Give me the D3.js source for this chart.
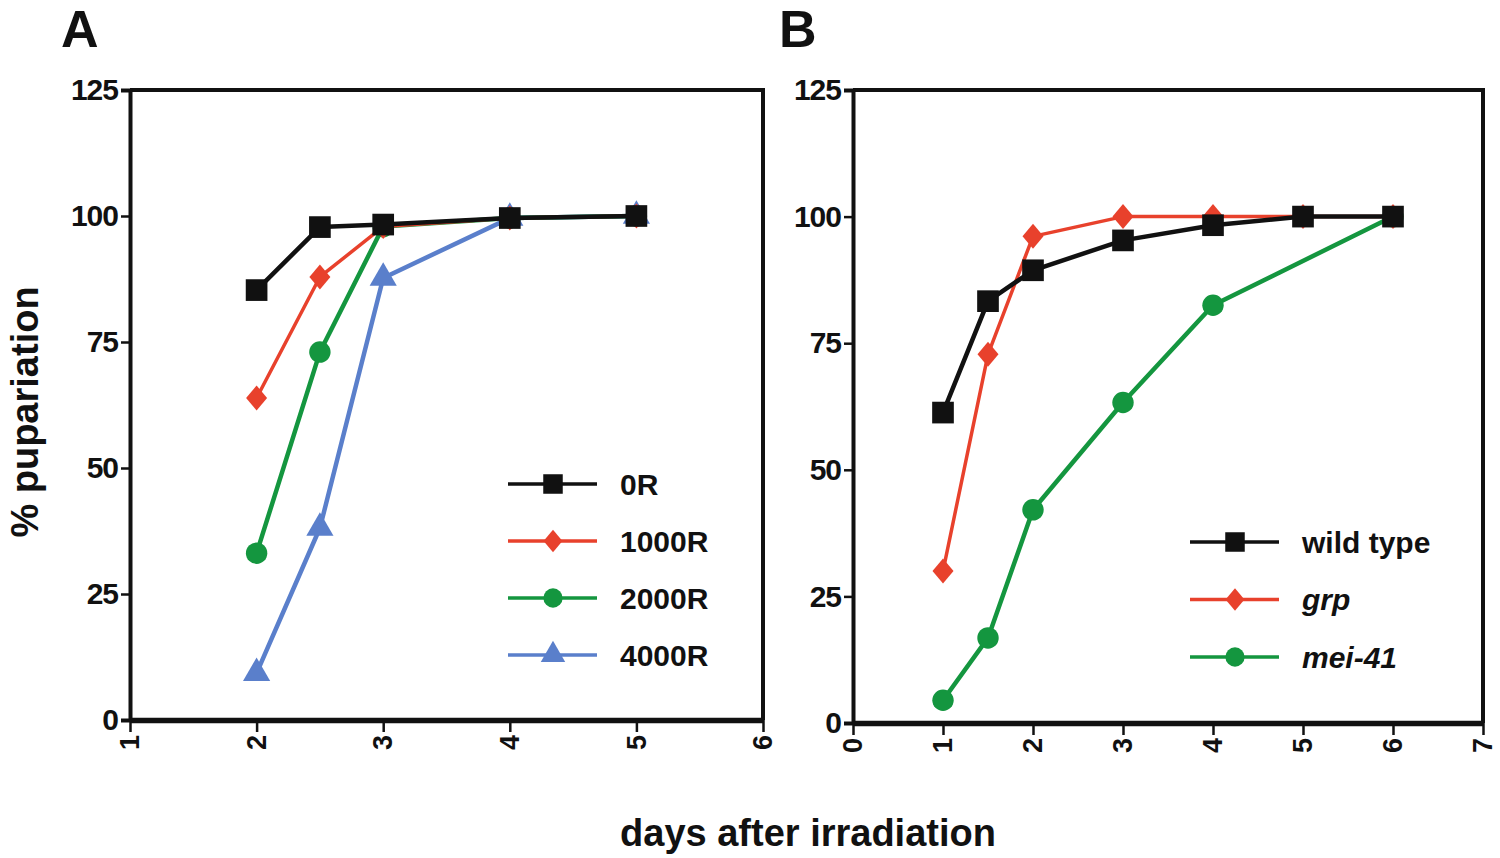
<!DOCTYPE html>
<html>
<head>
<meta charset="utf-8">
<script src="https://cdn.jsdelivr.net/npm/d3@7"></script>
<style>
  body { margin: 0; background: #fff; }
  svg { display: block; }
  text { font-family: "Liberation Sans", Arial, sans-serif; font-weight: bold; fill: #111; }
</style>
</head>
<body>
<div id="chart"></div>
<script>
// panel A: dose series
const daysA = [2, 2.5, 3, 4, 5];
const doseNames = ["0R", "1000R", "2000R", "4000R"];
const dose0R = [85.3, 97.8, 98.3, 99.6, 100];
const dose1000R = [63.9, 87.9, 97.9, 99.6, 100];
const dose2000R = [33.1, 73.0, 97.9, 99.6, 100];
const dose4000R = [9.3, 38.1, 87.7, 99.6, 100];

// panel B: genotypes
const daysB = [1, 1.5, 2, 3, 4, 5, 6];
const daysMei = [1, 1.5, 2, 3, 4, 6];
const genoNames = ["wild type", "grp", "mei-41"];
const wildType = [61.3, 83.3, 89.4, 95.3, 98.3, 100, 100];
const grp = [30.0, 72.8, 96.1, 100, 100, 100, 100];
const mei41 = [4.5, 16.8, 42.1, 63.3, 82.5, 100];

const yTicks = [0, 25, 50, 75, 100, 125];
const xTicksA = [1, 2, 3, 4, 5, 6];
const xTicksB = [0, 1, 2, 3, 4, 5, 6, 7];

const colors = {black: "#111111", red: "#e8412c", green: "#14963f", blue: "#5a7fcb"};

const width = 1500, height = 858;
const svg = d3.select("#chart").append("svg")
    .attr("width", width)
    .attr("height", height)
    .attr("viewBox", [0, 0, width, height]);

// marker shapes
const sym = {
    square: d3.symbol(d3.symbolSquare, 470),
    circle: d3.symbol(d3.symbolCircle, 360),
    triangle: d3.symbol(d3.symbolTriangle, 320)
};
function drawMarker(g, shape, color, x, y, scale = 1) {
    if (shape === "diamond") {
        const w = 10.5 * scale, h = 12.5 * scale;
        g.append("path")
            .attr("d", `M${x},${y - h}L${x + w},${y}L${x},${y + h}L${x - w},${y}Z`)
            .attr("fill", color);
    } else {
        g.append("path")
            .attr("transform", `translate(${x},${y}) scale(${scale})`)
            .attr("d", sym[shape]())
            .attr("fill", color);
    }
}

function panel(opt) {
    const x = d3.scaleLinear(opt.xDomain, opt.xRange);
    const y = d3.scaleLinear([0, 125], opt.yRange);
    const g = svg.append("g");

    // frame (top + right)
    g.append("path")
        .attr("d", `M${x.range()[0]},${y(125)}H${x.range()[1]}V${y(0)}`)
        .attr("fill", "none").attr("stroke", "#111").attr("stroke-width", 4);

    // y axis
    const ya = g.append("g")
        .attr("transform", `translate(${x.range()[0]},0)`)
        .call(d3.axisLeft(y).tickValues(yTicks).tickFormat(d3.format("d")).tickSize(9).tickPadding(3));
    ya.select(".domain").attr("stroke-width", 4).attr("stroke", "#111");
    ya.selectAll(".tick line").attr("stroke-width", 2.5).attr("stroke", "#111");
    ya.selectAll(".tick text")
        .style("font-size", "30px").style("letter-spacing", "-1px").attr("fill", "#111");

    // x axis
    const xa = g.append("g")
        .attr("transform", `translate(0,${y(0)})`)
        .call(d3.axisBottom(x).tickValues(opt.xTicks).tickFormat(d3.format("d")).tickSize(12).tickSizeOuter(0));
    xa.select(".domain").attr("stroke-width", 5.5).attr("stroke", "#111");
    xa.selectAll(".tick line").attr("stroke-width", 2.5).attr("stroke", "#111");
    xa.selectAll(".tick text")
        .attr("y", 0).attr("dy", "0.32em")
        .attr("transform", "translate(0,15) rotate(-90)")
        .style("text-anchor", "end")
        .style("font-size", "27px").attr("fill", "#111");

    // series
    const line = d3.line().x(d => x(d[0])).y(d => y(d[1]));
    opt.series.forEach(s => {
        const pts = s.xs.map((d, i) => [d, s.ys[i]]);
        g.append("path")
            .attr("d", line(pts))
            .attr("fill", "none")
            .attr("stroke", s.color)
            .attr("stroke-width", s.width || 4.5)
            .attr("stroke-linejoin", "round");
        pts.forEach(p => drawMarker(g, s.shape, s.color, x(p[0]), y(p[1])));
    });

    // legend
    const lg = g.append("g");
    opt.legend.forEach((s, i) => {
        const ly = opt.legendY + i * opt.legendStep;
        lg.append("line")
            .attr("x1", opt.legendX).attr("x2", opt.legendX + 89)
            .attr("y1", ly).attr("y2", ly)
            .attr("stroke", s.color).attr("stroke-width", 3.5);
        drawMarker(lg, s.shape, s.color, opt.legendX + 45, ly, 0.9);
        lg.append("text")
            .attr("x", opt.legendX + 112).attr("y", ly).attr("dy", "0.36em")
            .style("font-size", "30px")
            .style("font-style", s.italic ? "italic" : "normal")
            .text(s.name);
    });

    svg.append("text")
        .attr("x", opt.labelX).attr("y", 47)
        .style("font-size", "52px")
        .text(opt.label);
}

const seriesA = [
    {name: doseNames[0], xs: daysA, ys: dose0R, color: colors.black, shape: "square"},
    {name: doseNames[1], xs: daysA, ys: dose1000R, color: colors.red, shape: "diamond", width: 3.5},
    {name: doseNames[2], xs: daysA, ys: dose2000R, color: colors.green, shape: "circle"},
    {name: doseNames[3], xs: daysA, ys: dose4000R, color: colors.blue, shape: "triangle"}
];
panel({
    xDomain: [1, 6], xRange: [130, 763], yRange: [720, 90], xTicks: xTicksA,
    series: seriesA.slice().reverse(), legend: seriesA,
    legendX: 508, legendY: 484, legendStep: 57,
    label: "A", labelX: 61
});

const seriesB = [
    {name: genoNames[0], xs: daysB, ys: wildType, color: colors.black, shape: "square"},
    {name: genoNames[1], xs: daysB, ys: grp, color: colors.red, shape: "diamond", italic: true, width: 3.5},
    {name: genoNames[2], xs: daysMei, ys: mei41, color: colors.green, shape: "circle", italic: true}
];
panel({
    xDomain: [0, 7], xRange: [853, 1483], yRange: [723, 90], xTicks: xTicksB,
    series: seriesB.slice().reverse(), legend: seriesB,
    legendX: 1190, legendY: 542, legendStep: 57.5,
    label: "B", labelX: 779
});

// shared axis titles
svg.append("text")
    .attr("transform", "translate(38,412) rotate(-90)")
    .attr("text-anchor", "middle")
    .style("font-size", "38px")
    .text("% pupariation");
svg.append("text")
    .attr("x", 808).attr("y", 846)
    .attr("text-anchor", "middle")
    .style("font-size", "38px")
    .text("days after irradiation");
</script>
</body>
</html>
